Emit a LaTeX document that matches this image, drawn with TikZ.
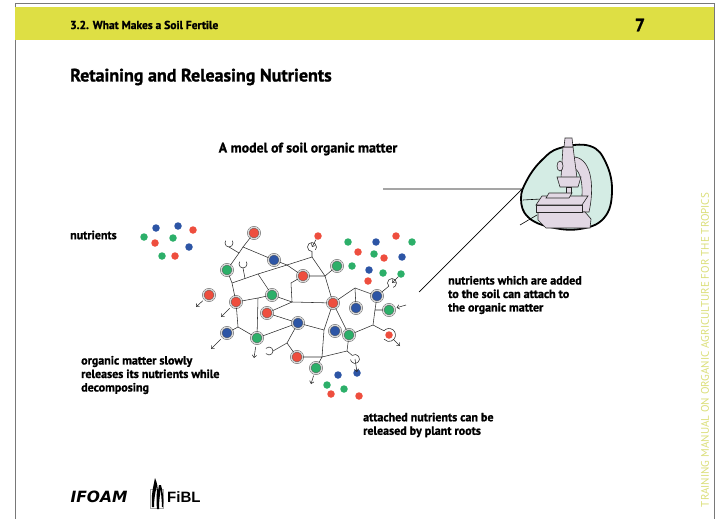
\documentclass[tikz,border=0pt]{standalone}
\usepackage{fontspec}
\setmainfont{PT Sans}[BoldFeatures={FakeBold=1.2}]
\newfontfamily\logofont{Liberation Sans}
\newfontfamily\ifoamfont{DejaVu Sans}
\usetikzlibrary{arrows.meta}
\definecolor{hdyellow}{RGB}{222,223,68}
\definecolor{sidetext}{RGB}{218,222,120}
\definecolor{nred}{RGB}{238,78,62}
\definecolor{ngreen}{RGB}{44,175,105}
\definecolor{nblue}{RGB}{45,85,165}
\definecolor{blobfill}{RGB}{212,236,228}
\definecolor{scopefill}{RGB}{226,216,228}
\definecolor{framegray}{RGB}{120,120,120}
\begin{document}
\begin{tikzpicture}[x=1pt,y=-1pt,
  edge/.style={draw=gray!35!black, line width=0.55pt},
  bound/.style={circle, inner sep=0pt, minimum size=11.5pt, fill=#1,
    draw=gray!55!black, line width=0.35pt, double=gray!30, double distance=1.4pt},
  free/.style={circle, inner sep=0pt, minimum size=7.5pt, fill=#1},
  rel/.style={edge, -{Straight Barb[length=2.5pt,width=4.5pt]}},
  lbl/.style={anchor=west, align=left, inner sep=0pt,
    font=\bfseries\fontsize{12}{13.5}\selectfont},
  scopepart/.style={fill=scopefill, draw=gray!30!black, line width=0.6pt},
]
\useasboundingbox (0,0) rectangle (718,519);

% page frame and header band
\draw[framegray, line width=0.6pt] (15,519) -- (15,3) -- (714,3) -- (714,519);
\fill[hdyellow] (15.3,7) rectangle (713.7,40);
\node[anchor=west, inner sep=0pt, font=\bfseries\fontsize{11.5}{12}\selectfont] (section) at (70,25) {3.2. What Makes a Soil Fertile};
\node[inner sep=0pt, font=\bfseries\fontsize{18}{19}\selectfont] (pagenum) at (640,25) {7};
\node[anchor=west, inner sep=0pt, font=\bfseries\fontsize{18}{20}\selectfont] (title) at (70,77) {Retaining and Releasing Nutrients};

% side text
\node[rotate=90, inner sep=0pt, text=sidetext, font=\fontsize{11}{12}\selectfont] (side) at (705,350) {TRAINING MANUAL ON ORGANIC AGRICULTURE FOR THE TROPICS};

% caption and labels
\node[inner sep=0pt, font=\bfseries\fontsize{13.8}{15}\selectfont] (caption) at (308,149) {A model of soil organic matter};
\node[lbl] (lnutr) at (70,235) {nutrients};
\node[lbl] (ladd) at (448,295) {nutrients which are added\\to the soil can attach to\\the organic matter};
\node[lbl] (lslow) at (81,375) {organic matter slowly\\releases its nutrients while\\decomposing};
\node[lbl] (lroot) at (363,425) {attached nutrients can be\\released by plant roots};

% magnifier lines
\coordinate (mA) at (383,189);
\coordinate (mB) at (522,189);
\coordinate (mC) at (419,292);
\draw[black, line width=0.7pt] (mA) -- (mB) -- (mC);

% microscope picture
\draw[line width=1.8pt, fill=blobfill] plot[smooth cycle, tension=0.7] coordinates
  {(542,160) (560,148) (590,146) (606,163) (612,192) (604,218) (580,229) (550,227) (528,217) (521,199) (527,180)};
\draw[black, line width=0.6pt] (523,200) -- (541,199);
\draw[black, line width=0.6pt] (520,225) -- (537,215);
\path[scopepart] (575,157) .. controls (593,160) and (594,190) .. (589,212) -- (580,212) .. controls (584,190) and (583,170) .. (571,166) -- cycle;
\path[scopepart] (563,147) -- (573,147) -- (577,178) -- (561,178) -- cycle;
\path[scopepart] (565,138) -- (572,138) -- (573,147) -- (564,147) -- cycle;
\path[scopepart] (560,166) ellipse (3 and 5);
\path[scopepart] (557,177) -- (581,177) -- (578,187) -- (560,187) -- cycle;
\path[scopepart] (566,187) rectangle (571,193);
\path[scopepart] (538,212) -- (585,212) -- (591,219) -- (590,228) -- (546,228) -- (538,220) -- cycle;
\path[scopepart] (536,205) rectangle (582,212);
\path[scopepart] (542,196) -- (588,196) -- (582,205) -- (536,205) -- cycle;
\path[scopepart] (549,193) -- (572,193) -- (569,198) -- (546,198) -- cycle;

% free nutrients
\foreach \x/\y/\c [count=\i] in {156/228/nblue,178/226/nblue,193/230/nred,144/237/ngreen,155/243/nred,173/238/ngreen,189/247/nblue,162/256/ngreen,175/256/nred}
  \node[free=\c] (fl\i) at (\x,\y) {};
\foreach \x/\y/\c [count=\i] in {348/242/ngreen,376/242/nblue,396/236/nred,412/242/ngreen,358/252/nred,374/254/ngreen,384/258/nred,402/257/nblue,352/266/ngreen,369/270/nblue,383/273/ngreen,368/281/nred}
  \node[free=\c] (fu\i) at (\x,\y) {};
\foreach \x/\y/\c [count=\i] in {338/375/nblue,357/373/nblue,327/385/ngreen,344/389/ngreen,331/394/nred,359/396/nred}
  \node[free=\c] (fb\i) at (\x,\y) {};
\node[free=nred] (incomingR) at (318,236) {};
\node[free=ngreen] (incomingG) at (401,274) {};
\node[free=nred] (rH) at (389,335) {};

% junctions of the organic matter network
\coordinate (j1) at (243,247);
\coordinate (jA) at (239,253);
\coordinate (j2) at (232,283);
\coordinate (j3) at (258,274);
\coordinate (jB) at (245,278.5);
\coordinate (jm) at (287,265);
\coordinate (jt) at (312,257);
\coordinate (j7) at (325,276);
\coordinate (j8) at (291,283);
\coordinate (j6) at (292,302);
\coordinate (j4) at (258,298);
\coordinate (j5) at (238,327);
\coordinate (j9) at (287,343);
\coordinate (jd) at (324,330);
\coordinate (j10) at (322,357);
\coordinate (jh) at (347,351);
\coordinate (j11) at (355,288);
\coordinate (j12) at (375,310);
\coordinate (j13) at (373,325);

% hook ends and loop centres
\coordinate (hA) at (229,247);
\coordinate (hB) at (243,268);
\coordinate (hC) at (312,251.5);
\coordinate (cC) at (312,247);
\coordinate (hD) at (273,351);
\coordinate (hE) at (352.3,355.4);
\coordinate (cE) at (355,359);
\coordinate (hF) at (384,330.8);
\coordinate (hG) at (388.8,286.2);
\coordinate (cG) at (392,283);

% free ends of the release arrows
\coordinate (aD) at (196,307);
\coordinate (aC) at (221,317);
\coordinate (aBC) at (211,349);
\coordinate (aGD) at (254,358);
\coordinate (aGG) at (311,384);
\coordinate (aE) at (357,372);
\coordinate (aH) at (400,346);
\coordinate (aF) at (406,305);

% bound nutrients
\node[bound=nred] (rA) at (254,233) {};
\node[bound=nblue] (bA) at (274,260) {};
\node[bound=ngreen] (gA) at (227,270) {};
\node[bound=nred] (rB) at (303,276) {};
\node[bound=ngreen] (gB) at (337,266) {};
\node[bound=ngreen] (gC) at (272,295) {};
\node[bound=nred] (rC) at (236,302) {};
\node[bound=nred] (rD) at (209,295) {};
\node[bound=nred] (rE) at (333,303) {};
\node[bound=nred] (rF) at (267,313) {};
\node[bound=nblue] (bB) at (298,323) {};
\node[bound=nblue] (bC) at (227,333) {};
\node[bound=ngreen] (gD) at (257,338) {};
\node[bound=nblue] (bD) at (335,331) {};
\node[bound=ngreen] (gE) at (349,335) {};
\node[bound=nblue] (bE) at (356,308) {};
\node[bound=nblue] (bF) at (377,296) {};
\node[bound=ngreen] (gF) at (389,310) {};
\node[bound=nred] (rG) at (297,357) {};
\node[bound=ngreen] (gG) at (316,368) {};

% network edges
\draw[edge] (rA) -- (j1) -- (bA);
\draw[edge] (j1) -- (jA) -- (gA);
\draw[edge] (gA) -- (j2) -- (rC);
\draw[edge] (j2) -- (jB) -- (j3) -- (jm);
\draw[edge] (j3) -- (gC);
\draw[edge] (bA) -- (jm) -- (rB);
\draw[edge] (jm) -- (jt) -- (j7);
\draw[edge] (rB) -- (j7) -- (gB);
\draw[edge] (j7) -- (rE);
\draw[edge] (rB) -- (j8) -- (j6) -- (rE);
\draw[edge] (gC) -- (j6);
\draw[edge] (rF) -- (j6);
\draw[edge] (rC) -- (j4) -- (gC);
\draw[edge] (j4) -- (gD);
\draw[edge] (rC) -- (j5) -- (gD);
\draw[edge] (j5) -- (bC);
\draw[edge] (gD) -- (bB);
\draw[edge] (rF) -- (bB);
\draw[edge] (bB) -- (j9) -- (rG);
\draw[edge] (rE) -- (jd) -- (j10);
\draw[edge] (bB) -- (jd);
\draw[edge] (rG) -- (j10) -- (gG);
\draw[edge] (j10) -- (jh) -- (gE);
\draw[edge] (rE) -- (gE);
\draw[edge] (rE) -- (j11) -- (bF);
\draw[edge] (j11) -- (bE);
\draw[edge] (bF) -- (j12) -- (gF);
\draw[edge] (j12) -- (j13) -- (gE);

% open hooks on the chains
\draw[edge] (jA) -- (hA);
\draw[edge] (hA) arc[start angle=90, end angle=215, radius=4];
\draw[edge] (hA) arc[start angle=90, end angle=-35, radius=4];
\draw[edge] (jB) -- (hB);
\draw[edge] (hB) arc[start angle=90, end angle=215, radius=4];
\draw[edge] (hB) arc[start angle=90, end angle=-35, radius=4];
\draw[edge] (j9) -- (hD);
\draw[edge] (hD) arc[start angle=0, end angle=-140, radius=4];
\draw[edge] (hD) arc[start angle=0, end angle=140, radius=4];

% loops catching or letting go of nutrients
\draw[edge] (jt) -- (hC) arc[start angle=90, end angle=400, radius=4.5];
\draw[rel] (incomingR) -- (cC);
\draw[edge] (bF) -- (hG) arc[start angle=135, end angle=435, radius=4.5];
\draw[rel] (incomingG) -- (cG);
\draw[edge] (jh) -- (hE) arc[start angle=233, end angle=533, radius=4.5];
\draw[rel] (cE) -- (aE);
\draw[edge] (j13) -- (hF) arc[start angle=220, end angle=500, radius=6.5];
\draw[rel, shorten <=2pt] (rH) -- (aH);

% released nutrients drifting away
\draw[rel, shorten <=2.5pt] (rD) -- (aD);
\draw[rel, shorten <=3pt] (rC) -- (aC);
\draw[rel, shorten <=3pt] (bC) -- (aBC);
\draw[rel, shorten <=3pt] (gD) -- (aGD);
\draw[rel, shorten <=2pt] (gG) -- (aGG);
\draw[rel, shorten >=2pt] (aF) -- (gF);

% logos
\node[inner sep=0pt, font=\ifoamfont\bfseries\itshape\fontsize{15.5}{16}\selectfont] (ifoam) at (99,497) {IFOAM};
\draw[gray!70, line width=0.6pt] (150,489) rectangle (163,508);
\fill[black] (155,478) .. controls (153,488) and (151,495) .. (152,507) -- (154,507) .. controls (154,497) and (156,490) .. (157,485)
  .. controls (157,494) and (156,500) .. (157,509) -- (159,509) .. controls (159,500) and (160,494) .. (161,489)
  .. controls (161,496) and (162,502) .. (162,507) -- (163,507) .. controls (164,500) and (163,492) .. (161,485)
  -- (159,485) .. controls (158,490) and (158,492) .. (158,494) .. controls (158,488) and (157,482) .. cycle;
\node[anchor=west, inner sep=0pt, font=\logofont\bfseries\fontsize{15}{16}\selectfont] (fibl) at (167,497) {FiBL};

\end{tikzpicture}
\end{document}
